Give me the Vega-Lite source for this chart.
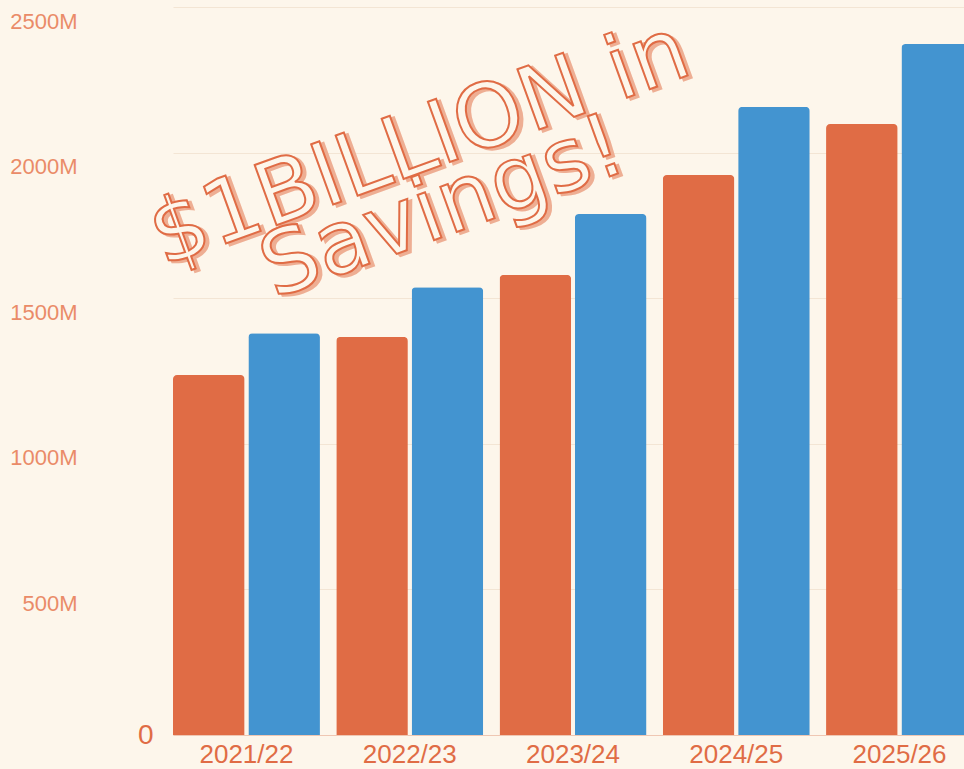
{
  "$schema": "https://vega.github.io/schema/vega-lite/v6.json",
  "autosize": {"type": "none"},
  "width": 791,
  "height": 728,
  "padding": {"left": 173, "top": 7, "right": 0, "bottom": 34},
  "background": "#fdf6eb",
  "config": {
    "view": {"stroke": null},
    "font": "Liberation Sans"
  },
  "datasets": {
    "bars": [
      {"year": "2021/22", "series": "A", "value": 1236},
      {"year": "2021/22", "series": "B", "value": 1380},
      {"year": "2022/23", "series": "A", "value": 1367},
      {"year": "2022/23", "series": "B", "value": 1538},
      {"year": "2023/24", "series": "A", "value": 1580},
      {"year": "2023/24", "series": "B", "value": 1789},
      {"year": "2024/25", "series": "A", "value": 1923},
      {"year": "2024/25", "series": "B", "value": 2157},
      {"year": "2025/26", "series": "A", "value": 2098},
      {"year": "2025/26", "series": "B", "value": 2373}
    ],
    "note": [
      {"year": "2022/23", "value": 2025, "label": "$1BILLION in\nSavings!"}
    ]
  },
  "layer": [
    {
      "data": {"name": "bars"},
      "mark": {"type": "bar", "cornerRadiusTopLeft": 4, "cornerRadiusTopRight": 4},
      "encoding": {
        "x": {
          "field": "year", "type": "nominal", "sort": null,
          "scale": {"range": [0, 800], "paddingInner": 0.1, "paddingOuter": 0},
          "axis": {
            "title": null, "labelAngle": 0, "labelFontSize": 26, "labelColor": "#e06c45",
            "labelPadding": 6, "ticks": false, "domainColor": "#efc7b3", "domainWidth": 1
          }
        },
        "xOffset": {"field": "series", "type": "nominal", "scale": {"paddingInner": 0.05, "paddingOuter": 0}},
        "y": {
          "field": "value", "type": "quantitative",
          "scale": {"domain": [0, 2500], "nice": false},
          "axis": {
            "title": null, "values": [0, 500, 1000, 1500, 2000, 2500],
            "labelExpr": "datum.value === 0 ? '0' : datum.value + 'M'",
            "domain": false, "ticks": false,
            "gridColor": "#f3e5d4", "gridWidth": 1,
            "labelFontSize": {"condition": {"test": "datum.value === 0", "value": 28}, "value": 22},
            "labelColor": {"condition": {"test": "datum.value === 0", "value": "#e06c45"}, "value": "#ea8b68"},
            "labelBaseline": {"condition": {"test": "datum.value === 0", "value": "middle"}, "value": "top"},
            "labelOffset": {"condition": {"test": "datum.value === 0", "value": 0}, "value": 4},
            "labelPadding": {"condition": {"test": "datum.value === 0", "value": 20}, "value": 96},
            "labelAlign": "right"
          }
        },
        "color": {
          "field": "series", "type": "nominal",
          "scale": {"domain": ["A", "B"], "range": ["#e06c45", "#4394d0"]},
          "legend": null
        }
      }
    },
    {
      "data": {"name": "note"},
      "mark": {
        "type": "text", "angle": -20, "fontSize": 88, "font": "DejaVu Sans",
        "lineBreak": "\n", "lineHeight": 68, "align": "center", "baseline": "middle",
        "fill": "#eeae93", "stroke": "#eeae93", "strokeWidth": 2.5, "dx": 3, "dy": 3
      },
      "encoding": {
        "x": {"field": "year", "type": "nominal", "bandPosition": 0.57},
        "y": {"field": "value", "type": "quantitative"},
        "text": {"field": "label"}
      }
    },
    {
      "data": {"name": "note"},
      "mark": {
        "type": "text", "angle": -20, "fontSize": 88, "font": "DejaVu Sans",
        "lineBreak": "\n", "lineHeight": 68, "align": "center", "baseline": "middle",
        "fill": "#fdf6eb", "stroke": "#e06c45", "strokeWidth": 2
      },
      "encoding": {
        "x": {"field": "year", "type": "nominal", "bandPosition": 0.57},
        "y": {"field": "value", "type": "quantitative"},
        "text": {"field": "label"}
      }
    }
  ]
}
